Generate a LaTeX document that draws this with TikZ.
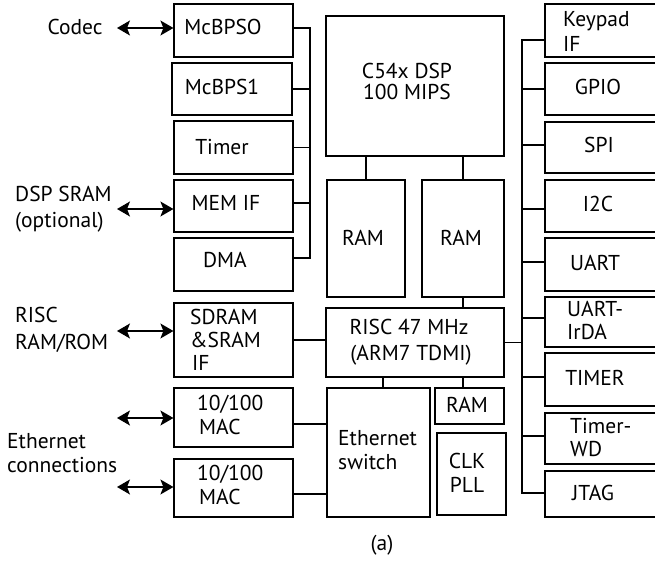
\documentclass[tikz,border=0pt]{standalone}
\usepackage{fontspec}
\setmainfont{PT Sans}
\usetikzlibrary{arrows.meta,fit}
\begin{document}
\begin{tikzpicture}[x=1pt,y=-1pt,
  box/.style={draw, line width=1.2pt, inner sep=0pt},
  txt/.style={inner sep=0pt, anchor=base, font=\fontsize{21.5}{25}\selectfont},
  txtl/.style={txt, anchor=base west},
  conn/.style={line width=1.2pt},
  dbl/.style={line width=1.2pt, {Stealth[length=13pt,width=15pt,inset=3pt]}-{Stealth[length=13pt,width=15pt,inset=3pt]}}]
\path[use as bounding box, clip] (0,0) rectangle (655,561);
\fill[white] (0,0) rectangle (655,561);
% left column
\node[box, fit={(174,4) (293,57)}] (mcbpso) {};
\node[box, fit={(172,63) (292,115)}] (mcbps1) {};
\node[box, fit={(174,121) (293,174)}] (timer) {};
\node[box, fit={(174,180) (293,232)}] (memif) {};
\node[box, fit={(174,238) (293,291)}] (dma) {};
\node[box, fit={(174,303) (293,377)}] (sdram) {};
\node[box, fit={(174,388) (293,447)}] (mac1) {};
\node[box, fit={(174,459) (293,517)}] (mac2) {};
% centre
\node[box, fit={(326,16) (504,156)}] (dsp) {};
\node[box, fit={(327,180) (405,297)}] (ram1) {};
\node[box, fit={(422,180) (504,297)}] (ram2) {};
\node[box, fit={(326,308) (504,377)}] (risc) {};
\node[box, fit={(327,388) (430,517)}] (sw) {};
\node[box, fit={(435,388) (504,424)}] (ram3) {};
\node[box, fit={(437,433) (506,515)}] (clk) {};
% right column
\node[box, fit={(545,4) (670,57)}] (keypad) {};
\node[box, fit={(545,63) (670,115)}] (gpio) {};
\node[box, fit={(545,122) (670,173)}] (spi) {};
\node[box, fit={(545,180) (670,232)}] (i2c) {};
\node[box, fit={(545,238) (670,291)}] (uart) {};
\node[box, fit={(545,297) (670,347)}] (irda) {};
\node[box, fit={(545,353) (670,406)}] (timer2) {};
\node[box, fit={(545,413) (670,464)}] (wd) {};
\node[box, fit={(545,471) (670,517)}] (jtag) {};
% texts in boxes
\node[txt] (t-mcbpso) at (223,35) {McBPSO};
\node[txt] (t-mcbps1) at (222,95) {McBPS1};
\node[txt] (t-timer) at (222,155) {Timer};
\node[txt] (t-memif) at (226,211) {MEM IF};
\node[txt] (t-dma) at (225,267) {DMA};
\node[txtl] (t-sdram1) at (190,324) {SDRAM};
\node[txtl] (t-sdram2) at (190,347) {\&SRAM};
\node[txtl] (t-sdram3) at (192,370) {IF};
\node[txtl] (t-mac1a) at (197,410) {10/100};
\node[txtl] (t-mac1b) at (199,434) {MAC};
\node[txtl] (t-mac2a) at (197,480) {10/100};
\node[txtl] (t-mac2b) at (199,504) {MAC};
\node[txt] (t-dsp1) at (407,79) {C54x DSP};
\node[txt] (t-dsp2) at (407,100) {100 MIPS};
\node[txt] (t-ram1) at (363,245) {RAM};
\node[txt] (t-ram2) at (461,245) {RAM};
\node[txt] (t-risc1) at (409,334) {RISC 47 MHz};
\node[txt] (t-risc2) at (411,360) {(ARM7 TDMI)};
\node[txt] (t-ram3) at (467,412) {RAM};
\node[txtl] (t-sw1) at (338,445) {Ethernet};
\node[txtl] (t-sw2) at (338,469) {switch};
\node[txt] (t-clk1) at (467,468) {CLK};
\node[txt] (t-clk2) at (467,492) {PLL};
\node[txtl] (t-key1) at (563,27) {Keypad};
\node[txtl] (t-key2) at (563,52) {IF};
\node[txt] (t-gpio) at (598,95) {GPIO};
\node[txt] (t-spi) at (599,153) {SPI};
\node[txt] (t-i2c) at (598,212) {I2C};
\node[txt] (t-uart) at (595,270) {UART};
\node[txtl] (t-irda1) at (567,316) {UART-};
\node[txtl] (t-irda2) at (567,339) {IrDA};
\node[txt] (t-timer2) at (595,385) {TIMER};
\node[txtl] (t-wd1) at (570,433) {Timer-};
\node[txtl] (t-wd2) at (570,456) {WD};
\node[txt] (t-jtag) at (593,500) {JTAG};
% outside labels
\node[txt] (l-codec) at (75,35) {Codec};
\node[txtl] (l-dsp1) at (15,202) {DSP SRAM};
\node[txtl] (l-dsp2) at (15,228) {(optional)};
\node[txtl] (l-risc1) at (15,322) {RISC};
\node[txtl] (l-risc2) at (15,349) {RAM/ROM};
\node[txtl] (l-eth1) at (7,448) {Ethernet};
\node[txtl] (l-eth2) at (7,472) {connections};
\node[txt] (cap) at (382,550) {(a)};
% left bus
\coordinate (lb1) at (310,28);
\coordinate (lb5) at (310,258);
\draw[conn] (mcbpso.east |- lb1) -- (lb1) -- (lb5) -- (dma.east |- lb5);
\draw[conn] (mcbps1.east) -- (mcbps1.east -| lb1);
\draw[conn] (timer.east) -- (timer.east -| lb1);
\draw[conn] ([yshift=3pt]memif.east) -- ([yshift=3pt]memif.east -| lb1);
% right bus
\coordinate (rb1) at (522,40);
\coordinate (rb9) at (522,493);
\draw[conn] (keypad.west |- rb1) -- (rb1) -- (rb9) -- (jtag.west |- rb9);
\draw[conn] (gpio.west) -- (gpio.west -| rb1);
\draw[conn] ([yshift=2.5pt]spi.west) -- ([yshift=2.5pt]spi.west -| rb1);
\draw[conn] ([yshift=-3pt]i2c.west) -- ([yshift=-3pt]i2c.west -| rb1);
\draw[conn] ([yshift=2.5pt]uart.west) -- ([yshift=2.5pt]uart.west -| rb1);
\draw[conn] ([yshift=4pt]irda.west) -- ([yshift=4pt]irda.west -| rb1);
\draw[conn] ([yshift=2.5pt]timer2.west) -- ([yshift=2.5pt]timer2.west -| rb1);
\draw[conn] ([yshift=2.5pt]wd.west) -- ([yshift=2.5pt]wd.west -| rb1);
\draw[conn] (risc.east) -- (risc.east -| rb1);
% centre connections
\draw[conn] (ram1.north) -- (ram1.north |- dsp.south);
\draw[conn] (ram2.north) -- (ram2.north |- dsp.south);
\draw[conn] (ram2.south) -- (ram2.south |- risc.north);
\draw[conn] ([xshift=4.5pt]sw.north) -- ([xshift=4.5pt]sw.north |- risc.south);
\draw[conn] (ram3.north -| ram2.south) -- (ram2.south |- risc.south);
\draw[conn] (sdram.east) -- (sdram.east -| risc.west);
\draw[conn] ([yshift=-6.5pt]mac1.east) -- ([yshift=-6.5pt]mac1.east -| sw.west);
\draw[conn] ([yshift=-6pt]mac2.east) -- ([yshift=-6pt]mac2.east -| sw.west);
% external arrows
\coordinate (codecL) at (117,28);
\coordinate (memL) at (117,209);
\coordinate (sdramL) at (117,331);
\coordinate (mac1L) at (117,418);
\coordinate (mac2L) at (117,487);
\draw[dbl] (codecL) -- (codecL -| mcbpso.west);
\draw[dbl] (memL) -- (memL -| memif.west);
\draw[dbl] (sdramL) -- (sdramL -| sdram.west);
\draw[dbl] (mac1L) -- (mac1L -| mac1.west);
\draw[dbl] (mac2L) -- (mac2L -| mac2.west);
\end{tikzpicture}
\end{document}
